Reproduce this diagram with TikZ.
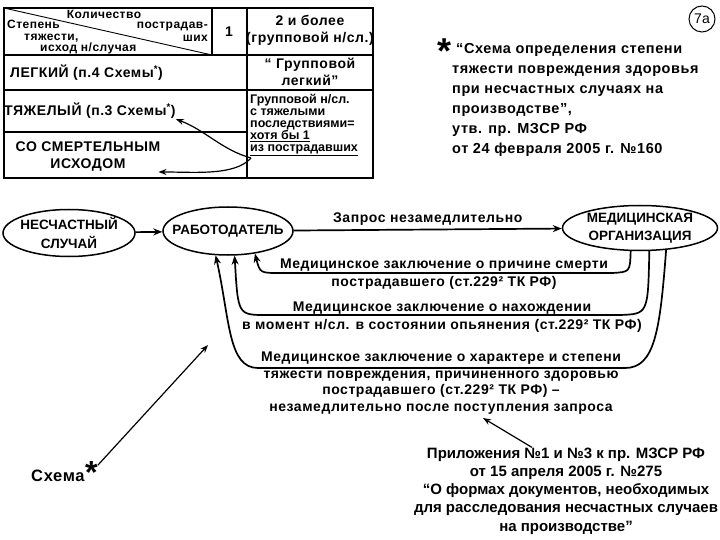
\documentclass[tikz,border=0pt]{standalone}
\usepackage{fontspec}
\setmainfont{Liberation Sans}[LetterSpace=4]
\newfontfamily\plainfont{Liberation Sans}
\usetikzlibrary{arrows.meta,calc,positioning,shapes.geometric}

\begin{document}
\begin{tikzpicture}[x=1pt,y=-1pt,
  every node/.style={inner sep=0pt},
  txt/.style={font=\bfseries\fontsize{14}{18.5}\selectfont,align=center},
  celltxt/.style={font=\bfseries\fontsize{14}{17}\selectfont},
  headtxt/.style={font=\bfseries\fontsize{12}{12}\selectfont},
  oval/.style={draw,ellipse,line width=1.5pt,inner xsep=-14pt,inner ysep=-6pt,align=center,font=\plainfont\bfseries\fontsize{13.5}{18.5}\selectfont},
  link/.style={line width=1.7pt,-{Stealth[length=9pt,width=7pt]}},
  pointer/.style={line width=1.2pt,-{Stealth[length=8pt,width=6pt]}},
  notetxt/.style={font=\plainfont\bfseries\fontsize{15}{18.3}\selectfont,align=center}]
\useasboundingbox (0,0) rectangle (720,540);

% table
\draw[line width=1.2pt] (4,8) rectangle (373,178);
\draw[line width=1.2pt] (4,55) -- (373,55) (4,90) -- (373,90) (4,132) -- (247,132)
  (212,8) -- (212,55) (247,8) -- (247,178);
\draw[line width=0.9pt] (4,8) -- (212,55);
\node[headtxt,anchor=base] (hcount) at (104,19) {Количество};
\node[headtxt,anchor=base east] (hvict) at (208,29) {пострадав-};
\node[headtxt,anchor=base east] (hvictb) at (208,42) {ших};
\node[headtxt,anchor=base west] (hdeg) at (7,29) {Степень};
\node[headtxt,anchor=base west] (hdegb) at (24,41) {тяжести,};
\node[headtxt,anchor=base west] (hdegc) at (40,52) {исход н/случая};
\node[celltxt] (single) at (229,32) {1};
\node[celltxt,align=center] (group) at (310,30) {2 и более\\(групповой н/сл.)};
\node[celltxt,anchor=base west] (light) at (10,78) {ЛЕГКИЙ (п.4 Схемы\textsuperscript{*})};
\node[celltxt,align=center] (grplight) at (310,72) {“ Групповой\\легкий”};
\node[celltxt,anchor=base west] (heavy) at (4,116) {ТЯЖЕЛЫЙ (п.3 Схемы\textsuperscript{*})};
\node[font=\plainfont\bfseries\fontsize{12.5}{12}\selectfont,align=left,anchor=north west] (grpheavy) at (250,94)
  {Групповой н/сл.\\с тяжелыми\\последствиями=\\\underline{хотя бы 1}\\\underline{из пострадавших}};
\node[celltxt,align=center] (fatal) at (88,157) {СО СМЕРТЕЛЬНЫМ\\ИСХОДОМ};
\coordinate (grpsrc) at (251,158);
\draw[pointer] (grpsrc) .. controls (222,150) and (205,130) .. (heavy.south east);
\draw[pointer] (grpsrc) .. controls (235,176) and (195,172) .. (fatal.-12);

% note
\node[draw,circle,line width=1pt,minimum size=26pt,font=\plainfont\fontsize{14}{14}\selectfont] (sheetno) at (702,19) {7а};
\node[font=\bfseries\fontsize{14.5}{20}\selectfont,align=left,anchor=north west] (notetext) at (452,43)
  {\makebox[0pt][r]{\smash{\raisebox{-10pt}{\fontsize{36}{36}\selectfont*}}\hspace{1pt}}\hspace{4pt}“Схема определения степени\\тяжести повреждения здоровья\\при несчастных случаях на\\производстве”,\\утв. пр. МЗСР РФ\\от 24 февраля 2005 г. №160};

% flow
\node[oval,minimum width=132pt,minimum height=47pt] (accident) at (69,233) {НЕСЧАСТНЫЙ\\СЛУЧАЙ};
\node[oval,minimum width=130pt,minimum height=48pt] (employer) at (228,231) {РАБОТОДАТЕЛЬ};
\node[oval,minimum width=155pt,minimum height=45pt] (medorg) at (640,228) {МЕДИЦИНСКАЯ\\ОРГАНИЗАЦИЯ};
\draw[link] (accident) -- (employer);
\draw[link] (employer) -- node[txt,above=3pt] (request) {Запрос незамедлительно} (medorg);

\draw[link] (medorg.-112) .. controls (630,272) .. (612,273) -- (280,273) .. controls (260,273) .. (employer.-40);
\node[txt] (death) at (444,274) {Медицинское заключение о причине смерти\\пострадавшего (ст.229² ТК РФ)};
\draw[link] (medorg.-68) .. controls (648,314) .. (620,315) -- (266,315) .. controls (238,315) .. (employer.-75);
\node[txt] (drunk) at (442,317) {Медицинское заключение о нахождении\\в момент н/сл. в состоянии опьянения (ст.229² ТК РФ)};
\draw[link] (medorg.-40) .. controls (660,330) and (655,368) .. (625,368) -- (258,368) .. controls (228,368) and (230,320) .. (employer.-117);
\node[txt,font=\bfseries\fontsize{14}{16.5}\selectfont,anchor=north] (severity) at (441,352)
  {Медицинское заключение о характере и степени\\тяжести повреждения, причиненного здоровью\\пострадавшего (ст.229² ТК РФ) –\\незамедлительно после поступления запроса};

% sources
\node[font=\bfseries\fontsize{16.5}{17}\selectfont,anchor=base west] (scheme) at (31,481) {Схема};
\node[font=\bfseries\fontsize{32}{32}\selectfont,anchor=west] (schemestar) at ($(scheme.east)+(0,-3)$) {*};
\coordinate (schemetip) at (208,345);
\draw[pointer] (schemestar) -- (schemetip);
\node[notetxt] (appendix) at (566,491) {Приложения №1 и №3 к пр. МЗСР РФ\\от 15 апреля 2005 г. №275\\“О формах документов, необходимых\\для расследования несчастных случаев\\на производстве”};
\coordinate (apptip) at (483,418);
\draw[pointer] (appendix.128) -- (apptip);
\end{tikzpicture}
\end{document}
